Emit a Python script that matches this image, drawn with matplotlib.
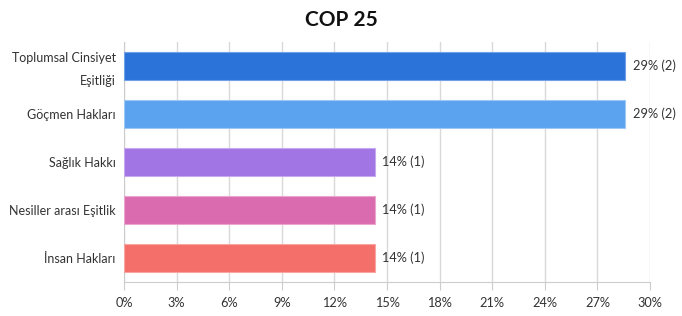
import matplotlib
matplotlib.use("Agg")
import matplotlib.pyplot as plt
from matplotlib.transforms import ScaledTranslation

categories = ["Toplumsal Cinsiyet\nEşitliği", "Göçmen Hakları", "Sağlık Hakkı",
              "Nesiller arası Eşitlik", "İnsan Hakları"]
percents = [28.57, 28.57, 14.29, 14.29, 14.29]
counts = [2, 2, 1, 1, 1]
bar_labels = ["29% (2)", "29% (2)", "14% (1)", "14% (1)", "14% (1)"]
colors = ["#2B73D9", "#5BA3EE", "#A175E3", "#DA6BAE", "#F46E6A"]
edges = ["#6FA0EA", "#9CC8F5", "#C7A9F0", "#ECA5CF", "#F9A5A2"]
xticks = [0, 3, 6, 9, 12, 15, 18, 21, 24, 27, 30]

plt.rcParams['font.family'] = ['Lato', 'DejaVu Sans']

fig = plt.figure(figsize=(6.82, 3.16), dpi=100)
ax = fig.add_axes([124/682, 1-282/316, (650-124)/682, 240/316])

ypos = list(range(len(categories)))
ax.barh(ypos, percents, height=0.58, color=colors, edgecolor=edges, linewidth=0.8, zorder=3)
for y, v, t in zip(ypos, percents, bar_labels):
    ax.text(v + 0.45, y, t, va='center', ha='left', fontsize=9.2, color='#333333')

ax.set_ylim(4.5, -0.5)
ax.set_xlim(0, 30)
ax.set_yticks(ypos)
ax.set_yticklabels(categories, fontsize=9.0, color='#333333', linespacing=2.1)
ax.set_xticks(xticks)
ax.set_xticklabels([f"{t}%" for t in xticks], fontsize=9.2, color='#333333')
ax.tick_params(axis='y', length=0, pad=6)
ax.tick_params(axis='x', length=6, color='#cccccc', pad=5)
ax.grid(axis='x', color='#d9d9d9', linewidth=1, zorder=0)
for s in ['top', 'right']:
    ax.spines[s].set_visible(False)
ax.spines['left'].set_color('#cccccc')
ax.spines['bottom'].set_color('#cccccc')

lab0 = ax.get_yticklabels()[0]
lab0.set_transform(lab0.get_transform() + ScaledTranslation(0, 2.5/72, fig.dpi_scale_trans))

fig.text(0.5, 1-20/316, "COP 25", ha='center', va='center', fontsize=15, fontweight='bold', color='#111111')

fig.savefig("out.png", dpi=100)
